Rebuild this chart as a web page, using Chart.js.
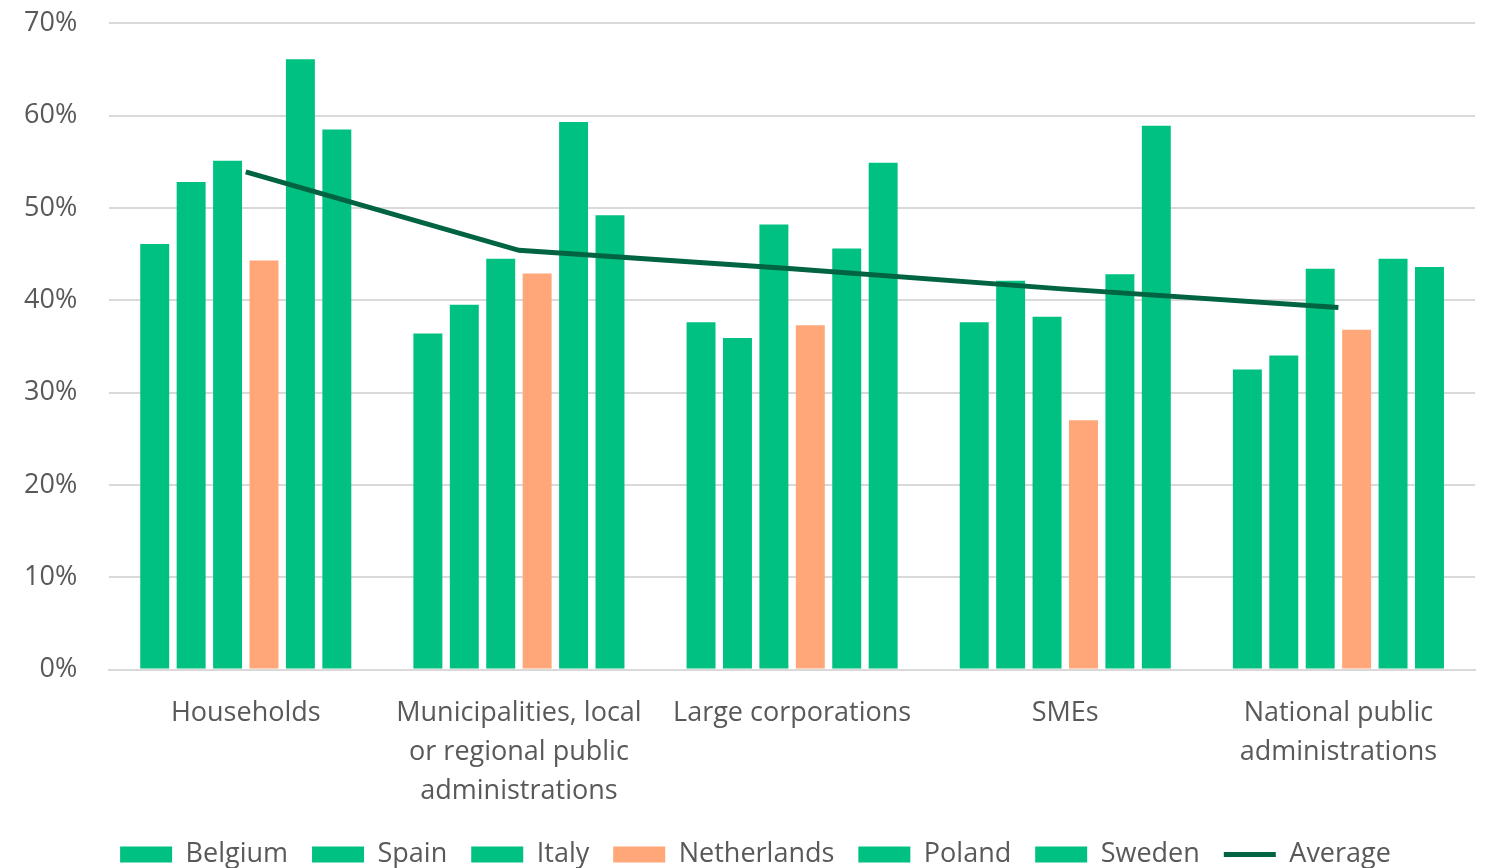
<!DOCTYPE html>
<html>
<head>
<meta charset="utf-8">
<script src="https://cdn.jsdelivr.net/npm/chart.js@4"></script>
<style>
  body { margin: 0; background: #fff; overflow: hidden; }
  #wrap { width: 1494px; height: 899px; position: relative; margin-top: -25px; margin-left: -8px; }
</style>
</head>
<body>
<div id="wrap"><canvas id="myChart"></canvas></div>
<script>
var categories = [
  'Households',
  ['Municipalities, local', 'or regional public', 'administrations'],
  'Large corporations',
  'SMEs',
  ['National public', 'administrations']
];
var belgium     = [46.1, 36.4, 37.6, 37.6, 32.5];
var spain       = [52.8, 39.5, 35.9, 42.1, 34.0];
var italy       = [55.1, 44.5, 48.2, 38.2, 43.4];
var netherlands = [44.3, 42.9, 37.3, 27.0, 36.8];
var poland      = [66.1, 59.3, 45.6, 42.8, 44.5];
var sweden      = [58.5, 49.2, 54.9, 58.9, 43.6];
var average     = [53.9, 45.4, 43.4, 41.2, 39.2];
var yTicks = [0, 10, 20, 30, 40, 50, 60, 70];

var green = '#00c181';
var orange = '#ffa778';
var fontName = '"Open Sans"';

function barSet(label, data, color) {
  return {
    type: 'bar',
    label: label,
    data: data,
    backgroundColor: color,
    borderWidth: 0,
    pointStyle: 'rect',
    order: 2
  };
}

// nudge the legend row a little to the right, like the original
var legendShift = {
  id: 'legendShift',
  afterLayout: function (c) {
    c.legend.left += 22;
    c.legend.right += 22;
  }
};

var chart = new Chart('myChart', {
  type: 'bar',
  data: {
    labels: categories,
    datasets: [
      barSet('Belgium', belgium, green),
      barSet('Spain', spain, green),
      barSet('Italy', italy, green),
      barSet('Netherlands', netherlands, orange),
      barSet('Poland', poland, green),
      barSet('Sweden', sweden, green),
      {
        type: 'line',
        label: 'Average',
        data: average,
        borderColor: '#006341',
        backgroundColor: '#006341',
        borderWidth: 5,
        pointRadius: 0,
        pointStyle: 'line',
        fill: false,
        tension: 0,
        order: 1
      }
    ]
  },
  plugins: [legendShift],
  options: {
    responsive: true,
    maintainAspectRatio: false,
    animation: false,
    datasets: {
      bar: { categoryPercentage: 0.80, barPercentage: 0.795 }
    },
    layout: { padding: { top: 0, right: 11, left: 0, bottom: -4 } },
    plugins: {
      tooltip: { enabled: false },
      legend: {
        display: true,
        position: 'bottom',
        labels: {
          usePointStyle: true,
          pointStyleWidth: 52,
          boxHeight: 16,
          padding: 6,
          color: '#595959',
          font: { family: fontName, size: 27 },
          generateLabels: function (c) {
            var items = Chart.defaults.plugins.legend.labels.generateLabels(c);
            items.sort(function (a, b) { return a.datasetIndex - b.datasetIndex; });
            items.forEach(function (it, i) {
              // extra room between legend entries
              if (i < items.length - 1) it.text = it.text + '\u2002\u2009';
            });
            return items;
          }
        }
      }
    },
    scales: {
      x: {
        grid: { display: false, drawTicks: false },
        border: { color: '#d9d9d9', width: 2 },
        ticks: {
          color: '#595959',
          padding: 24,
          maxRotation: 0,
          autoSkip: false,
          font: { family: fontName, size: 27, lineHeight: 1.45 }
        }
      },
      y: {
        min: 0,
        max: 70,
        grid: { color: '#d9d9d9', lineWidth: 2, drawTicks: false },
        border: { display: false },
        afterBuildTicks: function (axis) {
          axis.ticks = yTicks.map(function (v) { return { value: v }; });
        },
        ticks: {
          color: '#595959',
          padding: 32,
          callback: function (v) { return v + '%'; },
          font: { family: fontName, size: 27 }
        }
      }
    }
  }
});
</script>
</body>
</html>
